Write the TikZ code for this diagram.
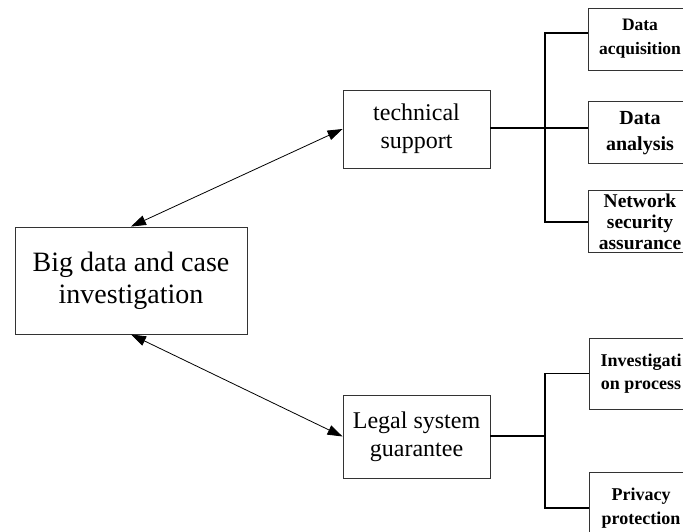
\documentclass[tikz,border=0pt]{standalone}
\usepackage{fontspec}
\setmainfont{Liberation Serif}
\usetikzlibrary{arrows.meta}
\usetikzlibrary{positioning}

\begin{document}
\begin{tikzpicture}[x=1pt,y=-1pt,
		box/.style={draw=black!80,line width=0.9pt,align=center,inner sep=0pt},
		main box/.style={box,minimum width=232pt,minimum height=107pt,font=\fontsize{28}{32}\selectfont},
		mid box/.style={box,minimum width=147pt,font=\fontsize{24}{28}\selectfont},
		leaf box/.style={box,minimum width=104pt,font=\bfseries\fontsize{17.5}{24}\selectfont},
		link/.style={{Triangle[length=15pt,width=10pt]}-{Triangle[length=15pt,width=10pt]},line width=0.8pt},
		branch/.style={line width=1.6pt}]
		
		\useasboundingbox (0,0) rectangle (683,532);
		
		\node[main box] (big) at (131,280.5) {Big data and case\\investigation};
		\node[mid box,minimum height=78pt] (tech) at (416.5,129) {technical\\support};
		\node[mid box,minimum height=83pt] (legal) at (416.5,436.5) {Legal system\\guarantee};
		
		% right column
		\node[leaf box,minimum height=62pt] (acq) at (640,39) {Data\\acquisition};
		\node[leaf box,minimum height=62pt,font=\bfseries\fontsize{20}{26}\selectfont] (ana) [below=31pt of acq] {Data\\analysis};
		\node[leaf box,minimum height=62pt,font=\bfseries\fontsize{19.5}{21}\selectfont] (net) [below=26pt of ana] {Network\\security\\assurance};
		\node[leaf box,minimum height=71pt,font=\bfseries\fontsize{18}{23}\selectfont] (inv) at (641,373.5) {Investigati\\on process};
		\node[leaf box,minimum height=70pt,font=\bfseries\fontsize{18}{24}\selectfont] (priv) [below=63pt of inv] {Privacy\\protection};
		
		\draw[link] (big.north) -- (tech.west);
		\draw[link] (big.south) -- (legal.west);
		
		\coordinate (tj) at (545,128);
		\draw[branch] (tech.east |- tj) -- (tj);
		\draw[branch] ([yshift=6pt]acq.west) -| (tj) |- (net.west);
		\draw[branch] (tj) -- (ana.west |- tj);
		
		\coordinate (lj) at (545,436);
		\draw[branch] (legal.east |- lj) -- (lj);
		\draw[branch] (inv.west) -| (lj) |- (priv.west);
\end{tikzpicture}
\end{document}
